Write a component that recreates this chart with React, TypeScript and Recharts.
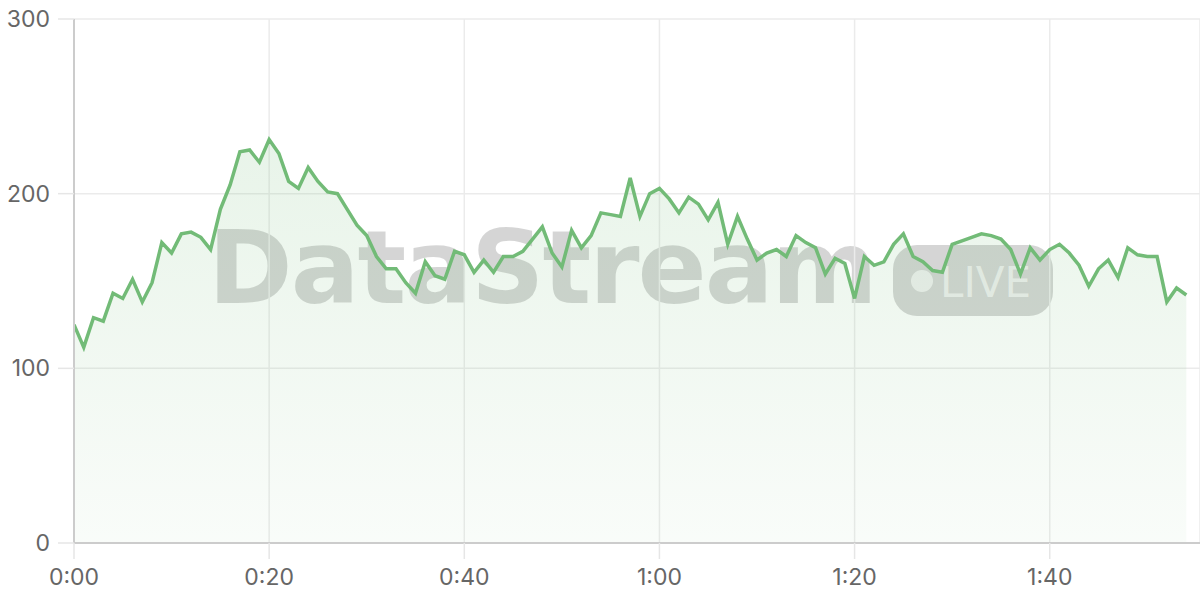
import React from 'react';
import { AreaChart, Area, XAxis, YAxis, CartesianGrid } from 'recharts';

// value per second, 0:00 .. 1:54
const values: number[] = [
  125, 112, 129, 127, 143, 140, 151, 138, 149, 172,
  166, 177, 178, 175, 168, 191, 205, 224, 225, 218,
  231, 223, 207, 203, 215, 207, 201, 200, 191, 182,
  176, 164, 157, 157, 149, 143, 161, 153, 151, 167,
  165, 155, 162, 155, 164, 164, 167, 174, 181, 166,
  158, 179, 169, 176, 189, 188, 187, 209, 187, 200,
  203, 197, 189, 198, 194, 185, 195, 171, 187, 174,
  162, 166, 168, 164, 176, 172, 169, 154, 163, 160,
  140, 164, 159, 161, 171, 177, 164, 161, 156, 155,
  171, 173, 175, 177, 176, 174, 168, 154, 169, 162,
  168, 171, 166, 159, 147, 157, 162, 152, 169, 165,
  164, 164, 138, 146, 142,
];

const xTicks: number[] = [0, 20, 40, 60, 80, 100];
const yTicks: number[] = [0, 100, 200, 300];

const data = values.map((v, i) => ({ t: i, v }));

const fmtTime = (s: number) => {
  const m = Math.floor(s / 60);
  const ss = s % 60;
  return `${m}:${ss < 10 ? '0' : ''}${ss}`;
};

const LINE = '#72bb77';
const FONT = 'Inter, "DejaVu Sans", sans-serif';
const WM = 'rgba(0,0,0,0.165)';

export default function App() {
  return (
    <div style={{ position: 'absolute', left: 0, top: 0, width: 1200, height: 600, background: '#fff' }}>
      <svg width={1200} height={600} style={{ position: 'absolute', left: 0, top: 0, zIndex: 0 }}>
        <text x={208} y={303} fontFamily='"DejaVu Sans", sans-serif' fontWeight="bold" fontSize={102} fill={WM} letterSpacing={-2}>
          DataStream
        </text>
        <rect x={893} y={245} width={160} height={71} rx={24} fill={WM} />
        <circle cx={922} cy={281} r={11} fill="rgba(255,255,255,0.65)" />
        <text x={940} y={297} fontFamily='"DejaVu Sans", sans-serif' fontSize={42} fill="rgba(255,255,255,0.65)">
          LIVE
        </text>
      </svg>
      <div style={{ position: 'absolute', left: 0, top: 0, zIndex: 1 }}>
        <AreaChart width={1200} height={600} data={data} margin={{ top: 19, right: 0, bottom: 0, left: 0 }}>
          <defs>
            <linearGradient id="areaFill" x1="0" y1="0" x2="0" y2="1">
              <stop offset="0%" stopColor={LINE} stopOpacity={0.27} />
              <stop offset="100%" stopColor={LINE} stopOpacity={0.07} />
            </linearGradient>
          </defs>
          <CartesianGrid stroke="#ebebeb" strokeWidth={1.5} />
          <XAxis
            dataKey="t"
            type="number"
            domain={[0, 115.4]}
            ticks={xTicks}
            tickFormatter={fmtTime}
            height={57}
            tickSize={16}
            tickMargin={10}
            axisLine={{ stroke: '#cccccc', strokeWidth: 2 }}
            tickLine={{ stroke: '#e6e6e6', strokeWidth: 1.5 }}
            tick={{ fill: '#666666', fontSize: 23, fontFamily: FONT }}
            allowDataOverflow
          />
          <YAxis
            type="number"
            domain={[0, 300]}
            ticks={yTicks}
            width={74}
            tickSize={16}
            tickMargin={8}
            axisLine={{ stroke: '#cccccc', strokeWidth: 2 }}
            tickLine={{ stroke: '#e6e6e6', strokeWidth: 1.5 }}
            tick={{ fill: '#666666', fontSize: 23, fontFamily: FONT }}
          />
          <Area
            type="linear"
            dataKey="v"
            stroke={LINE}
            strokeWidth={3.5}
            fill="url(#areaFill)"
            isAnimationActive={false}
            dot={false}
            activeDot={false}
          />
        </AreaChart>
      </div>
    </div>
  );
}
